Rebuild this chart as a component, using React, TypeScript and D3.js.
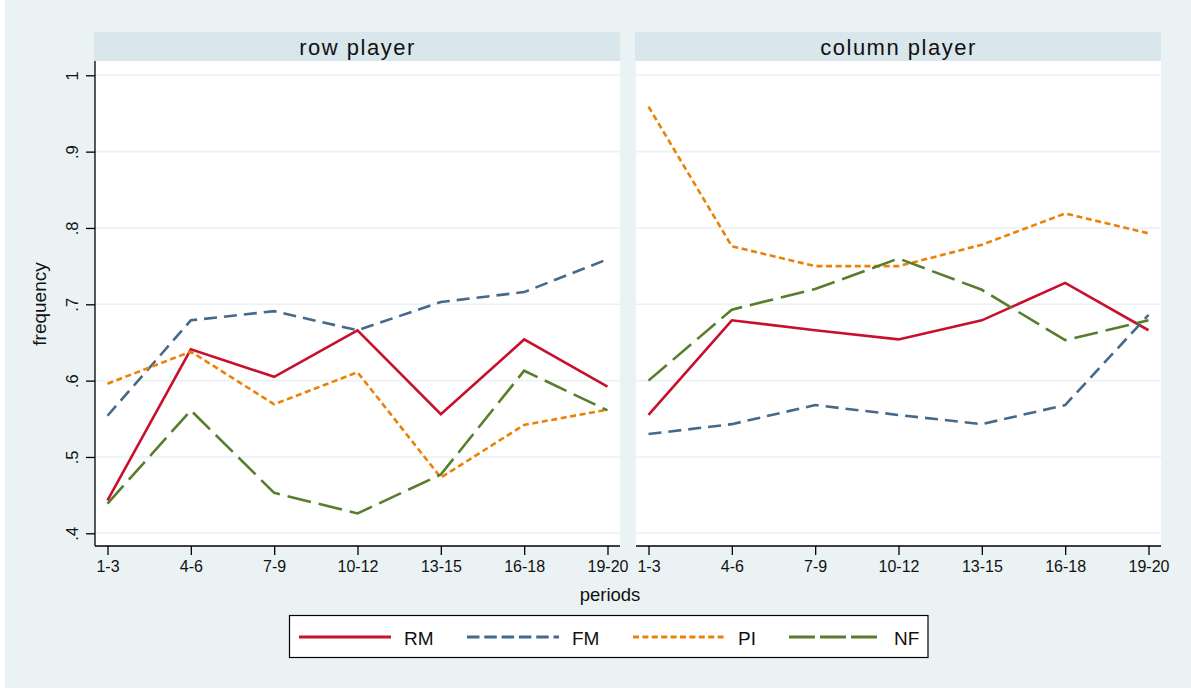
import { useRef, useEffect } from 'react'
import * as d3 from 'd3'

const PERIODS = ['1-3', '4-6', '7-9', '10-12', '13-15', '16-18', '19-20']
const Y_TICKS = [0.4, 0.5, 0.6, 0.7, 0.8, 0.9, 1]
const Y_LABELS = ['.4', '.5', '.6', '.7', '.8', '.9', '1']

// row player
const ROW_RM = [0.443, 0.641, 0.605, 0.666, 0.556, 0.654, 0.592]
const ROW_FM = [0.554, 0.679, 0.691, 0.666, 0.703, 0.716, 0.759]
const ROW_PI = [0.596, 0.638, 0.569, 0.611, 0.473, 0.542, 0.562]
const ROW_NF = [0.439, 0.561, 0.453, 0.426, 0.477, 0.613, 0.561]

// column player
const COL_RM = [0.555, 0.679, 0.666, 0.654, 0.679, 0.728, 0.666]
const COL_FM = [0.530, 0.543, 0.568, 0.555, 0.543, 0.568, 0.686]
const COL_PI = [0.959, 0.776, 0.750, 0.750, 0.778, 0.819, 0.793]
const COL_NF = [0.600, 0.693, 0.720, 0.760, 0.719, 0.653, 0.679]

const SERIES = [
  { key: 'RM', color: '#c8102e', dash: null,   legendDash: null },
  { key: 'FM', color: '#46698a', dash: '13,7', legendDash: '12.5,4.8' },
  { key: 'PI', color: '#eb8105', dash: '6,3.6', legendDash: '6,3.4' },
  { key: 'NF', color: '#587d2c', dash: '24,8', legendDash: '26,5' },
]

const PANELS = [
  { title: 'row player',    x0: 95,  x1: 620,  values: [ROW_RM, ROW_FM, ROW_PI, ROW_NF], yAxis: true },
  { title: 'column player', x0: 636, x1: 1161, values: [COL_RM, COL_FM, COL_PI, COL_NF], yAxis: false },
]

const FONT = '"Liberation Sans", Arial, Helvetica, sans-serif'
const BG = '#eaf2f3'
const STRIP = '#d9e6eb'

export default function App() {
  const svgRef = useRef<SVGSVGElement>(null)

  useEffect(() => {
    if (!svgRef.current) return
    const W = 1191, H = 689
    const top = 61, bottom = 546
    const svg = d3.select(svgRef.current)
    svg.selectAll('*').remove()

    svg.append('rect').attr('x', 5).attr('y', 0).attr('width', W - 5).attr('height', H - 1).attr('fill', BG)

    const yScale = d3.scaleLinear().domain([0.4, 1]).range([533.3, 75.3])

    PANELS.forEach(p => {
      const xScale = d3.scalePoint<string>().domain(PERIODS).range([p.x0 + 12.5, p.x1 - 12.5])

      // strip
      svg.append('rect').attr('x', p.x0 - 1).attr('y', 32).attr('width', p.x1 - p.x0 + 1).attr('height', 29).attr('fill', STRIP)
      svg.append('text')
        .attr('x', (p.x0 + p.x1) / 2).attr('y', 54.5)
        .attr('text-anchor', 'middle').attr('font-family', FONT).attr('font-size', 22)
        .attr('letter-spacing', 1.5).attr('fill', '#111')
        .text(p.title)

      // plot area
      svg.append('rect').attr('x', p.x0).attr('y', top).attr('width', p.x1 - p.x0).attr('height', bottom - top).attr('fill', '#fff')

      // grid
      svg.append('g').selectAll('line').data(Y_TICKS).enter().append('line')
        .attr('x1', p.x0).attr('x2', p.x1)
        .attr('y1', d => yScale(d)).attr('y2', d => yScale(d))
        .attr('stroke', BG).attr('stroke-width', 1.6)

      // x axis
      const xg = svg.append('g').attr('transform', `translate(0,${bottom})`)
        .call(d3.axisBottom(xScale).tickSize(9).tickPadding(6).tickSizeOuter(0))
      xg.select('.domain').attr('d', `M${p.x0},0H${p.x1}`).attr('stroke', '#000').attr('stroke-width', 1.3)
      xg.selectAll('.tick line').attr('stroke', '#000').attr('stroke-width', 1.3)
      xg.selectAll('.tick text').attr('font-family', FONT).attr('font-size', 16).attr('fill', '#111').attr('dy', '0.71em')

      // y axis
      if (p.yAxis) {
        const yg = svg.append('g').attr('transform', `translate(${p.x0},0)`)
          .call(d3.axisLeft(yScale).tickValues(Y_TICKS).tickSize(9).tickSizeOuter(0)
            .tickFormat((_, i) => Y_LABELS[i]))
        yg.select('.domain').attr('d', `M0,${top}V${bottom}`).attr('stroke', '#000').attr('stroke-width', 1.3)
        yg.selectAll('.tick line').attr('stroke', '#000').attr('stroke-width', 1.3)
        yg.selectAll('.tick text')
          .attr('x', null).attr('dy', null)
          .attr('transform', 'translate(-17,0) rotate(-90)')
          .attr('text-anchor', 'middle')
          .attr('font-family', FONT).attr('font-size', 16.5).attr('fill', '#111')
      }

      // lines
      const line = d3.line<number>().x((_, i) => xScale(PERIODS[i])!).y(d => yScale(d))
      SERIES.forEach((s, si) => {
        svg.append('path')
          .attr('d', line(p.values[si]))
          .attr('fill', 'none')
          .attr('stroke', s.color)
          .attr('stroke-width', 2.6)
          .attr('stroke-dasharray', s.dash)
      })
    })

    // axis titles
    svg.append('text')
      .attr('transform', 'translate(45.5,304) rotate(-90)')
      .attr('text-anchor', 'middle').attr('font-family', FONT).attr('font-size', 19).attr('fill', '#111')
      .text('frequency')
    svg.append('text')
      .attr('x', 610).attr('y', 601)
      .attr('text-anchor', 'middle').attr('font-family', FONT).attr('font-size', 18.5).attr('fill', '#111')
      .text('periods')

    // legend
    const lg = svg.append('g')
    lg.append('rect').attr('x', 289.5).attr('y', 615.5).attr('width', 638.5).attr('height', 42)
      .attr('fill', '#fff').attr('stroke', '#000').attr('stroke-width', 1.2)
    const legX = d3.scaleOrdinal<string, number>().domain(SERIES.map(s => s.key)).range([299, 467, 633, 789])
    SERIES.forEach(s => {
      const x = legX(s.key)
      lg.append('line').attr('x1', x).attr('x2', x + 92).attr('y1', 637).attr('y2', 637)
        .attr('stroke', s.color).attr('stroke-width', 2.8).attr('stroke-dasharray', s.legendDash)
      lg.append('text').attr('x', x + 105).attr('y', 644.5)
        .attr('font-family', FONT).attr('font-size', 19).attr('fill', '#111')
        .text(s.key)
    })

    return () => { svg.selectAll('*').remove() }
  }, [])

  return (
    <>
      <style>{'body{margin:0;background:#fff}'}</style>
      <svg ref={svgRef} width={1191} height={689} style={{ display: 'block' }} />
    </>
  )
}
